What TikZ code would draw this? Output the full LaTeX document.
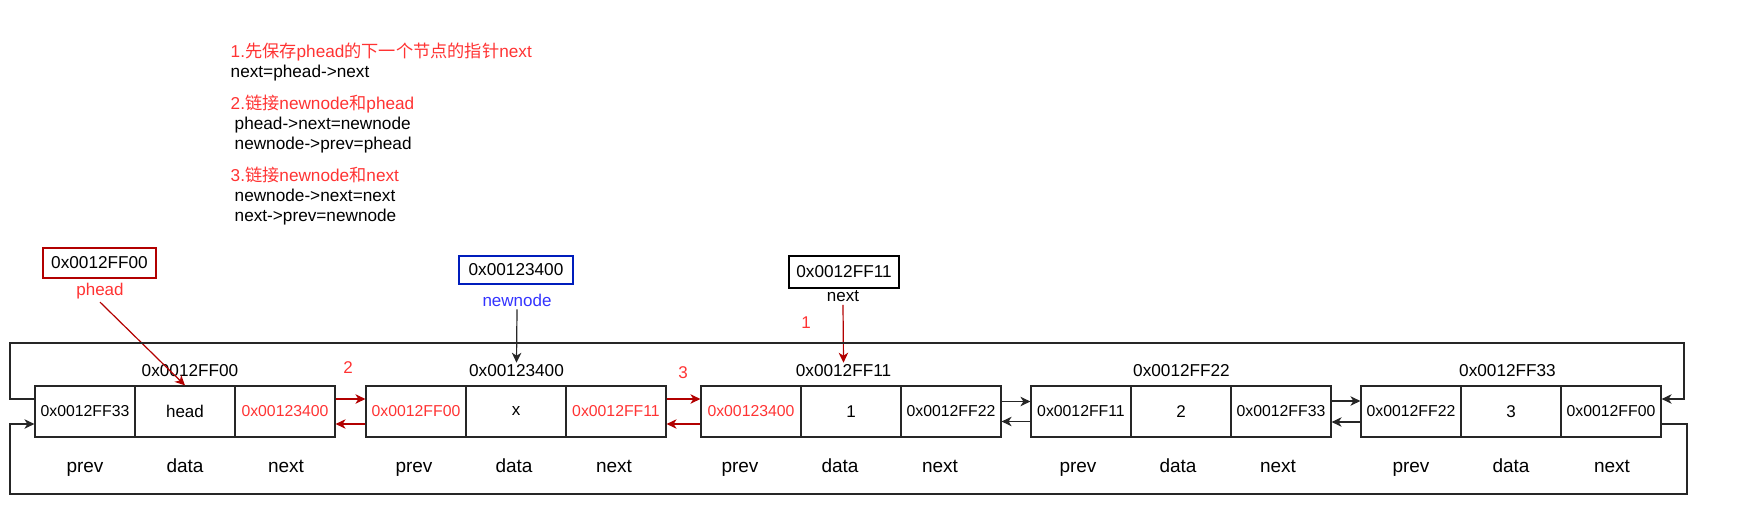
\documentclass[tikz,border=0pt]{standalone}
\usepackage{fontspec}
\setmainfont{Liberation Sans}
\newfontfamily\cjk{Noto Sans CJK SC}
\usetikzlibrary{arrows.meta}
\definecolor{tred}{HTML}{FF3333}
\definecolor{dred}{HTML}{B20000}
\definecolor{bborder}{HTML}{001DBC}
\definecolor{btext}{HTML}{3333FF}
\begin{document}
\begin{tikzpicture}[x=1pt,y=-1pt,
  cell/.style={draw=black!85, line width=1.2pt, minimum width=100pt, minimum height=51pt, inner sep=0pt, font=\fontsize{15.8}{18}\selectfont},
  dcell/.style={cell, font=\fontsize{17}{20}\selectfont},
  addr/.style={inner sep=2pt, font=\fontsize{17.2}{20}\selectfont},
  fld/.style={anchor=base, inner sep=0pt, font=\fontsize{19}{22}\selectfont},
  ptrbox/.style={draw, line width=2.3pt, inner sep=0pt, font=\fontsize{17.2}{20}\selectfont},
  lbl/.style={inner sep=3pt, font=\fontsize{17}{20}\selectfont},
  txt/.style={anchor=base west, inner sep=0pt, font=\fontsize{17.2}{20}\selectfont},
  arr/.style={-{Stealth[length=10pt,width=9.5pt,inset=3pt]}, line width=1.2pt},
]
\useasboundingbox (0,0) rectangle (1750,514);

% explanatory text
\node[txt, text=tred] (t1) at (230.5,57.7) {1.{\cjk 先保存}phead{\cjk 的下一个节点的指针}next};
\node[txt] (t2) at (230.5,77.7) {next=phead->next};
\node[txt, text=tred] (t3) at (230.5,109) {2.{\cjk 链接}newnode{\cjk 和}phead};
\node[txt] (t4) at (234.5,129) {phead->next=newnode};
\node[txt] (t5) at (234.5,149.3) {newnode->prev=phead};
\node[txt, text=tred] (t6) at (230.5,181.5) {3.{\cjk 链接}newnode{\cjk 和}next};
\node[txt] (t7) at (234.5,201.5) {newnode->next=next};
\node[txt] (t8) at (234.5,221.5) {next->prev=newnode};

% pointer boxes
\node[ptrbox, draw=dred, minimum width=113pt, minimum height=30pt] (pheadbox) at (99.5,263) {0x0012FF00};
\node[lbl, text=tred] (pheadlbl) at (100,291) {phead};
\node[ptrbox, draw=bborder, minimum width=114pt, minimum height=28pt] (newbox) at (516,270) {0x00123400};
\node[lbl, text=btext] (newlbl) at (517,300) {newnode};
\node[ptrbox, draw=black, minimum width=110pt, minimum height=32pt] (nextbox) at (844,272) {0x0012FF11};
\node[lbl] (nextlbl) at (843,296) {next};

% step numbers
\node[lbl, text=tred] (s1) at (806,323) {1};
\node[lbl, text=tred] (s2) at (348,368) {2};
\node[lbl, text=tred] (s3) at (683,373) {3};

% address labels
\node[addr] (a1) at (190,371) {0x0012FF00};
\node[addr] (a2) at (516.5,371) {0x00123400};
\node[addr] (a3) at (843.5,371) {0x0012FF11};
\node[addr] (a4) at (1181.5,371) {0x0012FF22};
\node[addr] (a5) at (1507.5,371) {0x0012FF33};

% node 1
\node[cell] (p1) at (85,411.5) {0x0012FF33};
\node[dcell] (d1) at (185,411.5) {head};
\node[cell, text=tred] (n1) at (285,411.5) {0x00123400};
% node 2
\node[cell, text=tred] (p2) at (416,411.5) {0x0012FF00};
\node[dcell] (d2) at (516,411.5) {x};
\node[cell, text=tred] (n2) at (616,411.5) {0x0012FF11};
% node 3
\node[cell, text=tred] (p3) at (751,411.5) {0x00123400};
\node[dcell] (d3) at (851,411.5) {1};
\node[cell] (n3) at (951,411.5) {0x0012FF22};
% node 4
\node[cell] (p4) at (1081,411.5) {0x0012FF11};
\node[dcell] (d4) at (1181,411.5) {2};
\node[cell] (n4) at (1281,411.5) {0x0012FF33};
% node 5
\node[cell] (p5) at (1411,411.5) {0x0012FF22};
\node[dcell] (d5) at (1511,411.5) {3};
\node[cell] (n5) at (1611,411.5) {0x0012FF00};

% field labels
\node[fld] (fp1) at (85,472.5) {prev};
\node[fld] (fd1) at (185,472.5) {data};
\node[fld] (fn1) at (286,472.5) {next};
\node[fld] (fp2) at (414,472.5) {prev};
\node[fld] (fd2) at (514,472.5) {data};
\node[fld] (fn2) at (614,472.5) {next};
\node[fld] (fp3) at (740,472.5) {prev};
\node[fld] (fd3) at (840,472.5) {data};
\node[fld] (fn3) at (940,472.5) {next};
\node[fld] (fp4) at (1078,472.5) {prev};
\node[fld] (fd4) at (1178,472.5) {data};
\node[fld] (fn4) at (1278,472.5) {next};
\node[fld] (fp5) at (1411,472.5) {prev};
\node[fld] (fd5) at (1511,472.5) {data};
\node[fld] (fn5) at (1612,472.5) {next};

% pointer arrows
\draw[arr, dred] (pheadlbl.south) -- (d1.north);
\draw[arr, black!85] (newlbl.south) -- (a2.north);
\draw[arr, dred] (nextlbl.south) -- (a3.north);

% links
\draw[arr, dred] ([yshift=12.5pt]n1.east) -- ([yshift=12.5pt]p2.west);
\draw[arr, dred] ([yshift=-12.5pt]p2.west) -- ([yshift=-12.5pt]n1.east);
\draw[arr, dred] ([yshift=12.5pt]n2.east) -- ([yshift=12.5pt]p3.west);
\draw[arr, dred] ([yshift=-12.5pt]p3.west) -- ([yshift=-12.5pt]n2.east);
\draw[arr, black!85] ([yshift=10pt]n3.east) -- ([yshift=10pt]p4.west);
\draw[arr, black!85] ([yshift=-10pt]p4.west) -- ([yshift=-10pt]n3.east);
\draw[arr, black!85] ([yshift=10.5pt]n4.east) -- ([yshift=10.5pt]p5.west);
\draw[arr, black!85] ([yshift=-10.5pt]p5.west) -- ([yshift=-10.5pt]n4.east);

% wrap-around loops
\coordinate (tl) at (10,343);
\coordinate (tr) at (1684,343);
\coordinate (br) at (1687,494);
\coordinate (bl) at (10,494);
\draw[arr, black!85] ([yshift=12.5pt]p1.west) -| (tl) -- (tr) |- ([yshift=12.5pt]n5.east);
\draw[arr, black!85] ([yshift=-12.5pt]n5.east) -| (br) -- (bl) |- ([yshift=-12.5pt]p1.west);
\end{tikzpicture}
\end{document}
